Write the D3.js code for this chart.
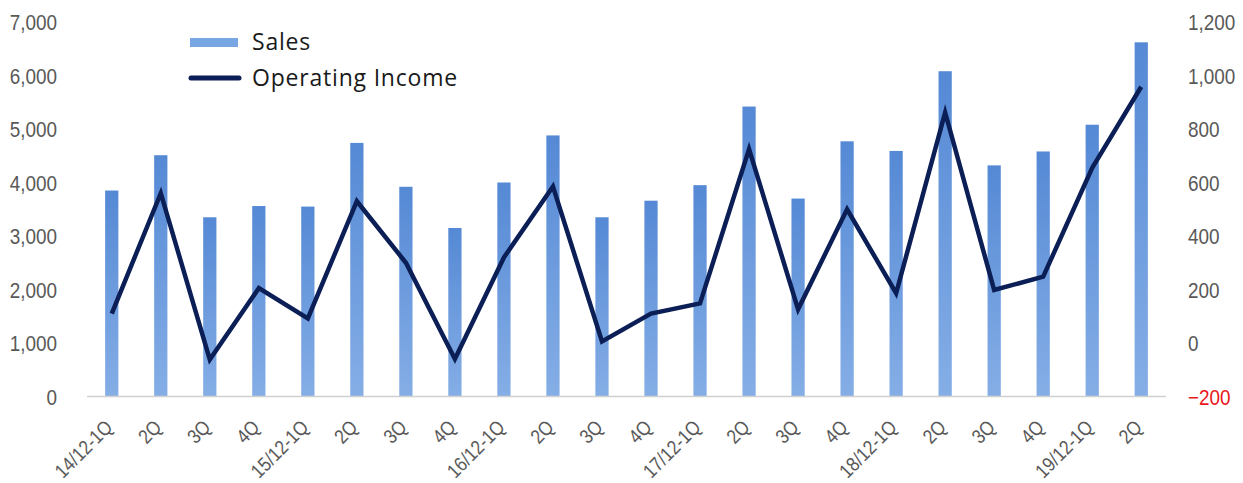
<!DOCTYPE html>
<html>
<head>
<meta charset="utf-8">
<script src="https://cdn.jsdelivr.net/npm/d3@7"></script>
<style>
  html, body { margin: 0; padding: 0; background: #fff; }
  svg { display: block; }
  .ax text { font-family: "Liberation Sans", Arial, sans-serif; fill: #595959; }
  .legend text { font-family: "Open Sans", "Noto Sans", sans-serif; fill: #1a1a1a; }
</style>
</head>
<body>
<div id="chart"></div>
<script>
const quarters = ["14/12-1Q","2Q","3Q","4Q","15/12-1Q","2Q","3Q","4Q","16/12-1Q","2Q","3Q","4Q",
                  "17/12-1Q","2Q","3Q","4Q","18/12-1Q","2Q","3Q","4Q","19/12-1Q","2Q"];
const sales = [3850, 4510, 3350, 3560, 3550, 4740, 3920, 3150, 4000, 4880, 3350, 3660,
               3950, 5420, 3700, 4770, 4590, 6080, 4320, 4580, 5080, 6620];
const opIncome = [110, 560, -62, 205, 92, 530, 300, -60, 320, 585, 6, 110,
                  148, 725, 126, 500, 186, 862, 198, 248, 655, 958];
const leftTicks = [0, 1000, 2000, 3000, 4000, 5000, 6000, 7000];
const rightTicks = [-200, 0, 200, 400, 600, 800, 1000, 1200];

const width = 1243, height = 483;
const margin = {top: 22, right: 77, bottom: 86, left: 87};
const squeeze = 0.86; // narrow glyphs like the original

const rows = quarters.map((q, i) => ({i: i, q: q, s: sales[i], o: opIncome[i]}));

const svg = d3.select("#chart").append("svg")
  .attr("width", width)
  .attr("height", height);

const x = d3.scaleBand()
  .domain(rows.map(d => d.i))
  .range([margin.left, width - margin.right])
  .paddingInner(0.73)
  .paddingOuter(0.37);

const yL = d3.scaleLinear()
  .domain([0, 7000])
  .range([height - margin.bottom - 0.5, margin.top]);

const yR = d3.scaleLinear()
  .domain([-200, 1200])
  .range([height - margin.bottom - 0.5, margin.top]);

// bar gradient
const grad = svg.append("defs").append("linearGradient")
  .attr("id", "barGrad")
  .attr("x1", 0).attr("y1", 0).attr("x2", 0).attr("y2", 1);
grad.append("stop").attr("offset", "0%").attr("stop-color", "#5589d5");
grad.append("stop").attr("offset", "100%").attr("stop-color", "#85aee6");

// left axis
svg.append("g")
  .attr("class", "ax")
  .attr("transform", `translate(${margin.left - 30},0)`)
  .call(d3.axisLeft(yL).tickValues(leftTicks).tickSize(0).tickPadding(0).tickFormat(d3.format(",")))
  .call(g => g.select(".domain").remove())
  .call(g => g.selectAll("text").attr("font-size", 22).attr("dy", "0.36em")
    .attr("transform", `scale(${squeeze},1)`));

// right axis
svg.append("g")
  .attr("class", "ax")
  .attr("transform", `translate(${width - margin.right + 22},0)`)
  .call(d3.axisRight(yR).tickValues(rightTicks).tickSize(0).tickPadding(0).tickFormat(d3.format(",")))
  .call(g => g.select(".domain").remove())
  .call(g => g.selectAll("text").attr("font-size", 22).attr("dy", "0.36em")
    .attr("transform", `scale(${squeeze},1)`)
    .style("fill", d => d < 0 ? "#e8191b" : null));

// bars
svg.append("g")
  .selectAll("rect")
  .data(rows)
  .enter().append("rect")
  .attr("x", d => x(d.i))
  .attr("y", d => yL(d.s))
  .attr("width", x.bandwidth())
  .attr("height", d => yL(0) - yL(d.s))
  .attr("fill", "url(#barGrad)");

// baseline
svg.append("line")
  .attr("x1", margin.left)
  .attr("x2", width - margin.right)
  .attr("y1", yL(0))
  .attr("y2", yL(0))
  .attr("stroke", "#d0d0d0")
  .attr("stroke-width", 1.5);

// x labels
svg.append("g")
  .attr("class", "ax")
  .selectAll("text")
  .data(rows)
  .enter().append("text")
  .attr("transform", d => `translate(${x(d.i) + x.bandwidth() / 2 - 3},${yL(0) + 27}) rotate(-45) scale(${squeeze},1)`)
  .attr("text-anchor", "end")
  .attr("dy", "0.35em")
  .attr("font-size", 20)
  .text(d => d.q);

// operating income line
const line = d3.line()
  .x(d => x(d.i) + x.bandwidth() / 2)
  .y(d => yR(d.o));

svg.append("path")
  .datum(rows)
  .attr("fill", "none")
  .attr("stroke", "#0b1f56")
  .attr("stroke-width", 4.5)
  .attr("stroke-linejoin", "miter")
  .attr("d", line);

// legend
const legend = svg.append("g").attr("class", "legend");
legend.append("rect")
  .attr("x", 190).attr("y", 38)
  .attr("width", 48).attr("height", 9)
  .attr("fill", "#78a6e2");
legend.append("text")
  .attr("x", 252).attr("y", 42)
  .attr("dy", "0.35em")
  .attr("font-size", 23)
  .attr("letter-spacing", 0.8)
  .text("Sales");
legend.append("line")
  .attr("x1", 191).attr("x2", 239)
  .attr("y1", 78).attr("y2", 78)
  .attr("stroke", "#0b1f56")
  .attr("stroke-width", 5)
  .attr("stroke-linecap", "round");
legend.append("text")
  .attr("x", 252).attr("y", 78)
  .attr("dy", "0.35em")
  .attr("font-size", 23)
  .attr("letter-spacing", 0.8)
  .text("Operating Income");
</script>
</body>
</html>
